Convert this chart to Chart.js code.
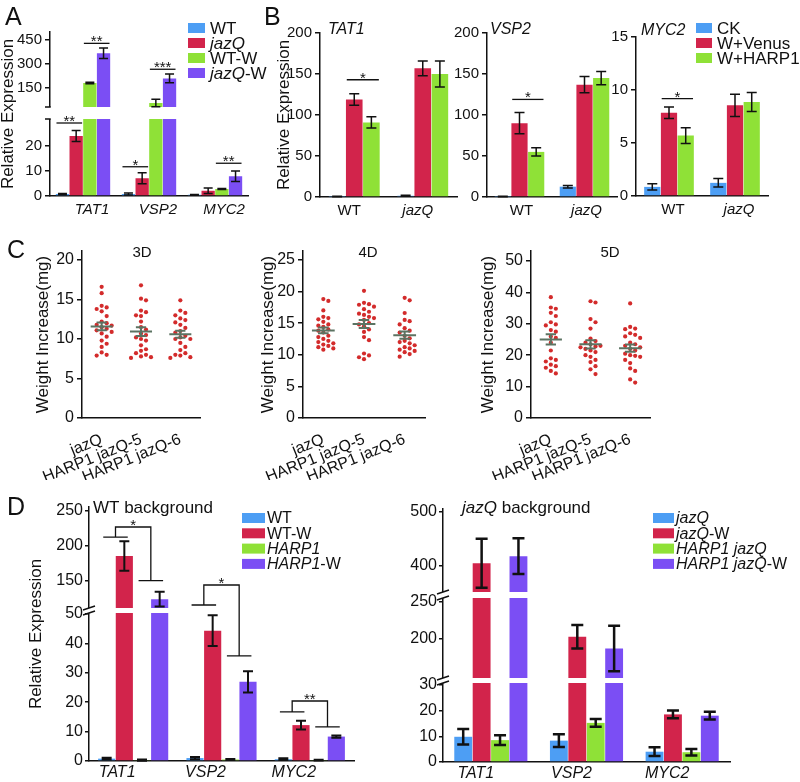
<!DOCTYPE html>
<html>
<head>
<meta charset="utf-8">
<title>HARP1 expression and weight figure</title>
<script src="https://cdn.jsdelivr.net/npm/chart.js@4.4.1/dist/chart.umd.min.js"></script>
<style>
  html, body { margin: 0; padding: 0; background: #fff; }
  #fig { position: relative; width: 800px; height: 782px; overflow: hidden; }
  #fig canvas { position: absolute; }
</style>
</head>
<body>
<div id="fig"></div>
<script>
// names written as *xxx* are set in italics
const FONT = "'Liberation Sans', Arial, sans-serif";
Chart.defaults.font.family = FONT;
Chart.defaults.color = '#111';

const BLUE = '#4d9ef4';
const RED = '#d2244b';
const GREEN = '#8fe137';
const PURPLE = '#7b4ef4';
const DOT = '#d32b2b';
const MEAN = '#5b7362';
const INK = '#111';

// ---------------- A : expression, wounding ----------------
const genesA = ['*TAT1*', '*VSP2*', '*MYC2*'];
const seriesA = ['WT', '*jazQ*', 'WT-W', '*jazQ*-W'];
const aWT = [0.8, 0.8, 0.5];
const aJazQ = [24, 7.1, 2.1];
const aWTW = [181, 56, 2.8];
const aJazQW = [367, 210, 7.9];
const aWTErr = [0.25, 0.4, 0.15];
const aJazQErr = [2.2, 2.2, 1.1];
const aWTWErr = [5, 24, 0.2];
const aJazQWErr = [33, 28, 2.1];
const aTicks = [0, 10, 20, 150, 300, 450];
// [gene, first bar, last bar, height, stars]
const aSig = [[0, 0, 1, 29.2, '**'], [0, 2, 3, 429, '**'], [1, 0, 1, 11.7, '*'], [1, 2, 3, 267, '***'], [2, 2, 3, 13.1, '**']];

// ---------------- B : Venus / HARP1 ----------------
const groupsB = ['WT', '*jazQ*'];
const seriesB = ['CK', 'W+Venus', 'W+HARP1'];
const tatCK = [0.5, 1.5], tatVenus = [119, 157], tatHarp = [91, 150];
const tatCKErr = [0.3, 0.6], tatVenusErr = [7, 9], tatHarpErr = [7, 16];
const vspCK = [0.5, 12.6], vspVenus = [90, 137], vspHarp = [55, 145];
const vspCKErr = [0.3, 1.5], vspVenusErr = [13, 10], vspHarpErr = [5, 8];
const mycCK = [0.86, 1.24], mycVenus = [7.85, 8.55], mycHarp = [5.7, 8.87];
const mycCKErr = [0.3, 0.4], mycVenusErr = [0.55, 1.05], mycHarpErr = [0.75, 0.9];
const bTicks200 = [0, 50, 100, 150, 200];
const bTicks15 = [0, 5, 10, 15];
const tatSig = [[0, 1, 2, 143, '*']];
const vspSig = [[0, 1, 2, 119, '*']];
const mycSig = [[0, 1, 2, 9.18, '*']];

// ---------------- C : weight increase ----------------
const strains = ['jazQ', 'HARP1 jazQ-5', 'HARP1 jazQ-6'];
const d3JazQ = [16.6, 15.8, 14.2, 14.0, 13.8, 13.5, 12.9, 12.2, 12.0, 11.8, 11.7, 11.5, 11.3, 11.1, 10.9, 10.7, 10.3, 9.8, 9.4, 9.0, 8.3, 8.0, 7.9];
const d3Line5 = [16.8, 15.1, 14.9, 13.6, 13.4, 13.0, 12.9, 12.2, 11.5, 11.2, 10.7, 10.5, 10.2, 10.0, 9.8, 9.2, 8.7, 8.5, 8.2, 8.0, 7.8, 7.7, 7.6];
const d3Line6 = [14.9, 13.6, 13.3, 13.0, 12.6, 12.4, 12.1, 11.8, 11.4, 11.0, 10.8, 10.4, 10.2, 10.0, 10.0, 9.5, 9.0, 8.6, 8.2, 8.0, 7.9, 7.7, 7.6];
const d4JazQ = [18.8, 18.5, 17.0, 16.0, 15.8, 15.6, 15.2, 14.8, 14.6, 14.4, 14.0, 13.8, 13.5, 13.0, 12.8, 12.5, 12.2, 12.0, 11.8, 11.6, 11.4, 11.2, 11.0, 10.8];
const d4Line5 = [20.1, 18.2, 18.0, 17.9, 17.6, 17.2, 16.8, 16.5, 16.3, 16.0, 15.8, 15.5, 15.0, 14.8, 14.5, 14.0, 13.6, 12.8, 12.3, 10.2, 9.9, 9.6, 9.3];
const d4Line6 = [19.0, 18.6, 16.6, 15.5, 15.3, 14.8, 14.2, 13.8, 13.5, 13.0, 12.6, 12.2, 12.0, 11.8, 11.5, 11.2, 11.0, 10.8, 10.6, 10.4, 10.1, 9.7];
const d5JazQ = [38.5, 35.2, 34.8, 33.5, 32.5, 30.5, 29.8, 29.5, 28.0, 27.5, 26.0, 25.5, 24.0, 21.5, 19.0, 18.5, 18.0, 17.0, 16.5, 16.0, 15.0, 14.2];
const d5Line5 = [37.2, 36.8, 31.5, 30.5, 28.5, 25.3, 24.5, 24.0, 23.5, 23.0, 22.8, 22.5, 22.0, 21.5, 21.0, 20.0, 19.5, 18.5, 17.8, 16.5, 15.5, 14.0];
const d5Line6 = [36.5, 29.0, 28.5, 28.3, 27.0, 26.5, 26.0, 25.5, 24.0, 23.5, 23.0, 22.5, 22.0, 21.5, 20.5, 20.0, 19.8, 19.5, 18.5, 17.5, 15.8, 15.0, 12.3, 11.3];
const cTicks3D = [0, 5, 10, 15, 20];
const cTicks4D = [0, 5, 10, 15, 20, 25];
const cTicks5D = [0, 10, 20, 30, 40, 50];

// ---------------- D : backgrounds ----------------
const genesD = ['*TAT1*', '*VSP2*', '*MYC2*'];
const seriesWT = ['WT', 'WT-W', '*HARP1*', '*HARP1*-W'];
const wtWT = [0.8, 1.0, 0.6];
const wtWTW = [185, 44.3, 12.2];
const wtHarp = [0.3, 0.5, 0.3];
const wtHarpW = [123.5, 26.9, 8.3];
const wtWTErr = [0.3, 0.4, 0.3];
const wtWTWErr = [21, 5.2, 1.5];
const wtHarpErr = [0.2, 0.2, 0.15];
const wtHarpWErr = [10.5, 3.6, 0.4];
const wtTicks = [0, 10, 20, 30, 40, 50, 150, 200, 250];
// [gene, left pair level, top level, right pair level, stars]
const wtBrackets = [[0, 212, 226.5, 150, '*'], [1, 115.3, 143.8, 35.7, '*'], [2, 16.7, 20.4, 11.6, '**']];

const seriesJQ = ['*jazQ*', '*jazQ*-W', '*HARP1 jazQ*', '*HARP1 jazQ*-W'];
const jqJazQ = [9.8, 8.3, 4.0];
const jqJazQW = [405, 203, 18.5];
const jqHarp = [8.5, 15.2, 3.8];
const jqHarpW = [418, 187, 18.0];
const jqJazQErr = [3, 2.5, 1.7];
const jqJazQWErr = [45, 16, 1.5];
const jqHarpErr = [1.9, 1.5, 1.3];
const jqHarpWErr = [33, 31, 1.5];
const jqTicks = [0, 10, 20, 30, 200, 250, 400, 500];

// ---------------- helpers ----------------
const extras = {};
const brokenAxes = {};

function plain(s) { return s.replace(/\*/g, ''); }
function isItalic(s) { return s.charAt(0) === '*'; }

function makeCanvas(id, left, top, w, h) {
  const c = document.createElement('canvas');
  c.id = id;
  c.width = w;
  c.height = h;
  c.style.left = left + 'px';
  c.style.top = top + 'px';
  c.style.width = w + 'px';
  c.style.height = h + 'px';
  document.getElementById('fig').appendChild(c);
  return c;
}

function richText(ctx, text, x, y, size, align) {
  const parts = text.split('*');
  const fonts = parts.map((p, i) => (i % 2 ? 'italic ' : '') + size + 'px ' + FONT);
  let w = 0;
  parts.forEach((p, i) => { ctx.font = fonts[i]; w += ctx.measureText(p).width; });
  let cx = align === 'center' ? x - w / 2 : (align === 'right' ? x - w : x);
  ctx.textAlign = 'left';
  parts.forEach((p, i) => {
    ctx.font = fonts[i];
    ctx.fillText(p, cx, y);
    cx += ctx.measureText(p).width;
  });
}

// linear axis made of stacked pieces with white gaps between them
class BrokenScale extends Chart.LinearScale {
  static id = 'broken';
  static defaults = {};
  toDecimal(v) {
    const parts = brokenAxes[this.chart.canvas.id];
    const total = parts.reduce((s, p) => s + p.size, 0);
    let acc = 0;
    for (let i = 0; i < parts.length; i++) {
      const p = parts[i];
      if (!p.gap && (v <= p.to || i === parts.length - 1)) {
        const c = Math.min(Math.max(v, p.from), p.to);
        return (acc + (c - p.from) / (p.to - p.from) * p.size) / total;
      }
      acc += p.size;
    }
    return 1;
  }
  getPixelForValue(v) {
    if (v === null || v === undefined || isNaN(v)) return NaN;
    return this.getPixelForDecimal(this.toDecimal(v));
  }
  getValueForPixel(px) {
    const d = this.getDecimalForPixel(px);
    const parts = brokenAxes[this.chart.canvas.id];
    const total = parts.reduce((s, p) => s + p.size, 0);
    let acc = 0;
    for (const p of parts) {
      const f = p.size / total;
      if (!p.gap && d <= acc + f) return p.from + (d - acc) / f * (p.to - p.from);
      acc += f;
    }
    return this.max;
  }
}
Chart.register(BrokenScale);

function drawBreaks(ctx, chart, style) {
  const parts = brokenAxes[chart.canvas.id];
  const ys = chart.scales.y, area = chart.chartArea;
  const total = parts.reduce((s, p) => s + p.size, 0);
  let acc = 0;
  parts.forEach(p => {
    if (p.gap) {
      const yLow = ys.getPixelForDecimal(acc / total);
      const yHigh = ys.getPixelForDecimal((acc + p.size) / total);
      ctx.fillStyle = '#fff';
      ctx.fillRect(area.left - 3, yHigh, area.right - area.left + 3, yLow - yHigh);
      ctx.strokeStyle = INK;
      ctx.lineWidth = 1.5;
      ctx.beginPath();
      [yLow, yHigh].forEach(y => {
        if (style === 'cap') {
          ctx.moveTo(area.left - 5, y);
          ctx.lineTo(area.left + 0.75, y);
        } else {
          ctx.moveTo(area.left - 6, y + 2);
          ctx.lineTo(area.left + 6, y - 2);
        }
      });
      ctx.stroke();
    }
    acc += p.size;
  });
}

function swarmOffsets(vals, pxPerUnit, catPx, dot) {
  const order = vals.map((v, i) => i).sort((a, b) => vals[b] - vals[a]);
  const placed = [];
  const off = [];
  order.forEach(i => {
    const y = vals[i] * pxPerUnit;
    for (let k = 0; k < 40; k++) {
      const dx = Math.ceil(k / 2) * (k % 2 ? 1 : -1) * dot;
      if (placed.every(p => Math.hypot(p.x - dx, p.y - y) >= dot)) {
        placed.push({ x: dx, y: y });
        off[i] = dx / catPx;
        break;
      }
    }
  });
  return off;
}

const figurePlugin = {
  id: 'figureExtras',
  afterDatasetsDraw(chart) {
    const ex = extras[chart.canvas.id];
    if (!ex) return;
    const ctx = chart.ctx, ys = chart.scales.y, xs = chart.scales.x;
    ctx.save();
    if (brokenAxes[chart.canvas.id]) drawBreaks(ctx, chart, ex.breakStyle);

    ctx.strokeStyle = INK;
    ctx.fillStyle = INK;
    if (ex.errors) {
      ctx.lineWidth = ex.errStyle.width;
      ex.errors.forEach((errs, di) => {
        const meta = chart.getDatasetMeta(di);
        const data = chart.data.datasets[di].data;
        meta.data.forEach((bar, j) => {
          const v = data[j], e = errs[j];
          const top = ys.getPixelForValue(v + e);
          const bot = ys.getPixelForValue(Math.max(v - e, 0));
          const half = ex.errStyle.cap / 2;
          ctx.beginPath();
          ctx.moveTo(bar.x, top); ctx.lineTo(bar.x, bot);
          ctx.moveTo(bar.x - half, top); ctx.lineTo(bar.x + half, top);
          ctx.moveTo(bar.x - half, bot); ctx.lineTo(bar.x + half, bot);
          ctx.stroke();
        });
      });
    }

    ctx.lineWidth = 1.3;
    ctx.textAlign = 'center';
    ctx.textBaseline = 'alphabetic';
    ctx.font = '15px ' + FONT;
    if (ex.sig) {
      ex.sig.forEach(([g, a, b, level, stars]) => {
        const ba = chart.getDatasetMeta(a).data[g], bb = chart.getDatasetMeta(b).data[g];
        const x1 = ba.x - ba.width * 0.45, x2 = bb.x + bb.width * 0.45;
        const y = ys.getPixelForValue(level);
        ctx.beginPath();
        ctx.moveTo(x1, y); ctx.lineTo(x2, y);
        ctx.stroke();
        ctx.fillText(stars, (x1 + x2) / 2, y + 3);
      });
    }
    if (ex.brackets) {
      ex.brackets.forEach(([g, lo, top, hi, stars]) => {
        const b = [0, 1, 2, 3].map(i => chart.getDatasetMeta(i).data[g]);
        const l1 = b[0].x - b[0].width * 0.2, l2 = b[1].x + b[1].width * 0.2;
        const r1 = b[2].x - b[2].width * 0.2, r2 = b[3].x + b[3].width * 0.2;
        const ml = (l1 + l2) / 2, mr = (r1 + r2) / 2;
        const yl = ys.getPixelForValue(lo), yt = ys.getPixelForValue(top), yr = ys.getPixelForValue(hi);
        ctx.beginPath();
        ctx.moveTo(l1, yl); ctx.lineTo(l2, yl);
        ctx.moveTo(ml, yl); ctx.lineTo(ml, yt); ctx.lineTo(mr, yt); ctx.lineTo(mr, yr);
        ctx.moveTo(r1, yr); ctx.lineTo(r2, yr);
        ctx.stroke();
        ctx.fillText(stars, (ml + mr) / 2, yt + 3);
      });
    }

    // mean and SEM over the dots
    if (ex.groups) {
      ctx.strokeStyle = MEAN;
      ctx.lineWidth = 2;
      ex.groups.forEach((vals, i) => {
        const n = vals.length;
        const m = vals.reduce((s, v) => s + v, 0) / n;
        const sd = Math.sqrt(vals.reduce((s, v) => s + (v - m) * (v - m), 0) / (n - 1));
        const se = sd / Math.sqrt(n);
        const cx = xs.getPixelForValue(i);
        const wide = xs.getPixelForValue(i + 0.28) - cx;
        const cap = xs.getPixelForValue(i + 0.13) - cx;
        const ym = ys.getPixelForValue(m), yh = ys.getPixelForValue(m + se), yl = ys.getPixelForValue(m - se);
        ctx.beginPath();
        ctx.moveTo(cx - wide, ym); ctx.lineTo(cx + wide, ym);
        ctx.moveTo(cx, yh); ctx.lineTo(cx, yl);
        ctx.moveTo(cx - cap, yh); ctx.lineTo(cx + cap, yh);
        ctx.moveTo(cx - cap, yl); ctx.lineTo(cx + cap, yl);
        ctx.stroke();
      });
    }
    ctx.restore();
  },
  afterDraw(chart) {
    // legend and loose text are placed in figure coordinates
    const ex = extras[chart.canvas.id];
    if (!ex) return;
    const ctx = chart.ctx;
    ctx.save();
    ctx.translate(-chart.canvas.offsetLeft, -chart.canvas.offsetTop);
    if (ex.legend) {
      const L = ex.legend;
      L.items.forEach((name, i) => {
        const cy = L.y + i * L.step;
        ctx.fillStyle = L.colors[i];
        ctx.fillRect(L.x, cy - L.boxH / 2, L.boxW, L.boxH);
        ctx.fillStyle = INK;
        ctx.textBaseline = 'middle';
        richText(ctx, name, L.textX, cy + 1, L.size, 'left');
      });
    }
    if (ex.texts) {
      ex.texts.forEach(t => {
        ctx.fillStyle = INK;
        ctx.textBaseline = 'alphabetic';
        richText(ctx, t.text, t.x, t.y, t.size, t.align || 'left');
      });
    }
    ctx.restore();
  }
};
Chart.register(figurePlugin);

function yAxis(cfg) {
  return {
    type: cfg.pieces ? 'broken' : 'linear',
    min: 0,
    max: cfg.max,
    grid: { drawOnChartArea: false, drawTicks: true, tickLength: cfg.tickLen || 5, color: INK, lineWidth: 1.5 },
    border: { color: INK, width: 1.5 },
    ticks: { color: INK, padding: cfg.tickPad || 3, autoSkip: false, font: { family: FONT, size: cfg.yFont } },
    afterBuildTicks: s => { s.ticks = cfg.ticks.map(v => ({ value: v })); },
    afterFit: s => { s.width = cfg.yWidth; },
    title: cfg.yTitle
      ? { display: true, text: cfg.yTitle, color: INK, padding: 0, font: { family: FONT, size: 17, lineHeight: 1 } }
      : { display: false }
  };
}

function barChart(id, box, cfg) {
  const canvas = makeCanvas(id, box[0], box[1], box[2], box[3]);
  extras[id] = cfg.extra;
  if (cfg.pieces) brokenAxes[id] = cfg.pieces;
  return new Chart(canvas, {
    type: 'bar',
    data: {
      labels: cfg.labels.map(plain),
      datasets: cfg.series.map((s, i) => ({
        label: plain(s),
        data: cfg.values[i],
        backgroundColor: cfg.colors[i],
        borderWidth: 0,
        barPercentage: 0.97,
        categoryPercentage: cfg.catPct
      }))
    },
    options: {
      responsive: false,
      animation: false,
      events: [],
      layout: { padding: cfg.pad },
      plugins: { legend: { display: false }, tooltip: { enabled: false } },
      scales: {
        x: {
          grid: { display: false, drawTicks: false },
          border: { color: INK, width: 1.5 },
          ticks: {
            color: INK,
            padding: cfg.xPad || 5,
            labelOffset: cfg.labelOffset || 0,
            font: c => ({ family: FONT, size: cfg.xFont, style: isItalic(cfg.labels[c.index] || '') ? 'italic' : 'normal' })
          },
          afterFit: s => { s.height = cfg.xHeight; }
        },
        y: yAxis(cfg)
      }
    }
  });
}

function dotChart(id, box, cfg) {
  const canvas = makeCanvas(id, box[0], box[1], box[2], box[3]);
  extras[id] = { groups: cfg.groups, texts: cfg.texts };
  const plotW = box[2] - cfg.pad.left - cfg.pad.right - cfg.yWidth;
  const plotH = box[3] - cfg.pad.top - cfg.xHeight;
  const points = [];
  cfg.groups.forEach((vals, g) => {
    const off = swarmOffsets(vals, plotH / cfg.max, plotW / 3, 5);
    vals.forEach((v, k) => points.push({ x: g + off[k], y: v }));
  });
  return new Chart(canvas, {
    type: 'scatter',
    data: { datasets: [{ data: points, backgroundColor: DOT, borderWidth: 0, pointRadius: 2.1 }] },
    options: {
      responsive: false,
      animation: false,
      events: [],
      layout: { padding: cfg.pad },
      plugins: { legend: { display: false }, tooltip: { enabled: false } },
      scales: {
        x: {
          type: 'linear',
          min: -0.5,
          max: 2.5,
          grid: { display: false, drawTicks: false },
          border: { color: INK, width: 1.5 },
          ticks: {
            color: INK, padding: 12, minRotation: 22, maxRotation: 22, autoSkip: false,
            font: { family: FONT, size: 16 },
            callback: v => strains[v]
          },
          afterBuildTicks: s => { s.ticks = strains.map((n, i) => ({ value: i })); },
          afterFit: s => { s.height = cfg.xHeight; }
        },
        y: yAxis(cfg)
      }
    }
  });
}

// ---------------- panel A ----------------
barChart('panelA', [0, 0, 300, 225], {
  labels: genesA, series: seriesA,
  values: [aWT, aJazQ, aWTW, aJazQW],
  colors: [BLUE, RED, GREEN, PURPLE],
  catPct: 0.83, pad: { left: 0, top: 32, right: 52, bottom: 0 },
  yWidth: 50, xHeight: 29, xFont: 15, yFont: 15, labelOffset: 9,
  ticks: aTicks, max: 500, yTitle: 'Relative Expression',
  pieces: [{ from: 0, to: 30.8, size: 77 }, { gap: true, size: 12 }, { from: 31, to: 500, size: 75 }],
  extra: {
    breakStyle: 'cap',
    errors: [aWTErr, aJazQErr, aWTWErr, aJazQWErr], errStyle: { width: 1.5, cap: 9 },
    sig: aSig,
    legend: { x: 188, y: 28, step: 15, boxW: 17, boxH: 10, textX: 210, size: 17, items: seriesA, colors: [BLUE, RED, GREEN, PURPLE] },
    texts: [{ text: 'A', x: 5, y: 25, size: 25 }]
  }
});

// ---------------- panel B ----------------
const colorsB = [BLUE, RED, GREEN];
barChart('panelB1', [258, 0, 202, 225], {
  labels: groupsB, series: seriesB, values: [tatCK, tatVenus, tatHarp], colors: colorsB,
  catPct: 0.75, pad: { left: 18, top: 33, right: 3, bottom: 0 },
  yWidth: 44, xHeight: 28, xFont: 15, yFont: 15, labelOffset: -5,
  ticks: bTicks200, max: 200, yTitle: 'Relative Expression',
  extra: {
    errors: [tatCKErr, tatVenusErr, tatHarpErr], errStyle: { width: 1.5, cap: 10 },
    sig: tatSig,
    texts: [{ text: 'B', x: 264, y: 25, size: 25 }, { text: '*TAT1*', x: 328, y: 34, size: 16 }]
  }
});
barChart('panelB2', [440, 0, 180, 225], {
  labels: groupsB, series: seriesB, values: [vspCK, vspVenus, vspHarp], colors: colorsB,
  catPct: 0.77, pad: { left: 0, top: 33, right: 3, bottom: 0 },
  yWidth: 47, xHeight: 28, xFont: 15, yFont: 15, labelOffset: 2,
  ticks: bTicks200, max: 200,
  extra: {
    errors: [vspCKErr, vspVenusErr, vspHarpErr], errStyle: { width: 1.5, cap: 10 },
    sig: vspSig,
    texts: [{ text: '*VSP2*', x: 490, y: 34, size: 16 }]
  }
});
barChart('panelB3', [596, 0, 204, 225], {
  labels: groupsB, series: seriesB, values: [mycCK, mycVenus, mycHarp], colors: colorsB,
  catPct: 0.76, pad: { left: 0, top: 37, right: 32, bottom: 0 },
  yWidth: 40, xHeight: 29, xFont: 15, yFont: 15, labelOffset: 4,
  ticks: bTicks15, max: 15,
  extra: {
    errors: [mycCKErr, mycVenusErr, mycHarpErr], errStyle: { width: 1.5, cap: 10 },
    sig: mycSig,
    legend: { x: 696, y: 28, step: 15, boxW: 16, boxH: 10, textX: 717, size: 17, items: seriesB, colors: colorsB },
    texts: [{ text: '*MYC2*', x: 641, y: 35, size: 16 }]
  }
});

// ---------------- panel C ----------------
dotChart('panelC1', [0, 236, 210, 244], {
  groups: [d3JazQ, d3Line5, d3Line6],
  pad: { left: 35, top: 15, right: 10, bottom: 0 }, yWidth: 47, xHeight: 62, yFont: 16,
  ticks: cTicks3D, max: 21.14, yTitle: 'Weight Increase(mg)',
  texts: [{ text: 'C', x: 7, y: 258, size: 25 }, { text: '3D', x: 142, y: 257, size: 15, align: 'center' }]
});
dotChart('panelC2', [255, 236, 180, 244], {
  groups: [d4JazQ, d4Line5, d4Line6],
  pad: { left: 5, top: 15, right: 10, bottom: 0 }, yWidth: 43, xHeight: 62, yFont: 16,
  ticks: cTicks4D, max: 26.4, yTitle: 'Weight Increase(mg)',
  texts: [{ text: '4D', x: 368, y: 257, size: 15, align: 'center' }]
});
dotChart('panelC3', [475, 236, 185, 244], {
  groups: [d5JazQ, d5Line5, d5Line6],
  pad: { left: 5, top: 15, right: 10, bottom: 0 }, yWidth: 51, xHeight: 62, yFont: 16,
  ticks: cTicks5D, max: 53.2, yTitle: 'Weight Increase(mg)',
  texts: [{ text: '5D', x: 610, y: 257, size: 15, align: 'center' }]
});

// ---------------- panel D ----------------
const colorsD = [BLUE, RED, GREEN, PURPLE];
barChart('panelD1', [0, 490, 400, 292], {
  labels: genesD, series: seriesWT, values: [wtWT, wtWTW, wtHarp, wtHarpW], colors: colorsD,
  catPct: 0.8, pad: { left: 28, top: 17, right: 46, bottom: 0 },
  yWidth: 61, xHeight: 21, xFont: 16, yFont: 16, xPad: 2, labelOffset: -16, tickLen: 4, tickPad: 2,
  ticks: wtTicks, max: 255, yTitle: 'Relative Expression',
  pieces: [{ from: 0, to: 50.3, size: 148 }, { gap: true, size: 5 }, { from: 111, to: 255, size: 101 }],
  extra: {
    breakStyle: 'slash',
    errors: [wtWTErr, wtWTWErr, wtHarpErr, wtHarpWErr], errStyle: { width: 2, cap: 10 },
    brackets: wtBrackets,
    legend: { x: 242, y: 518, step: 15.3, boxW: 23, boxH: 10, textX: 267, size: 16, items: seriesWT, colors: colorsD },
    texts: [{ text: 'D', x: 7, y: 515, size: 25 }, { text: 'WT background', x: 93, y: 513, size: 17 }]
  }
});
barChart('panelD2', [400, 490, 400, 292], {
  labels: genesD, series: seriesJQ, values: [jqJazQ, jqJazQW, jqHarp, jqHarpW], colors: colorsD,
  catPct: 0.77, pad: { left: 0, top: 19, right: 70, bottom: 0 },
  yWidth: 43, xHeight: 20, xFont: 16, yFont: 16, xPad: 2, labelOffset: -15, tickLen: 4, tickPad: 2,
  ticks: jqTicks, max: 505,
  pieces: [{ from: 0, to: 30.7, size: 79 }, { gap: true, size: 5 }, { from: 147, to: 255.5, size: 80 },
           { gap: true, size: 6 }, { from: 352, to: 505, size: 83 }],
  extra: {
    breakStyle: 'slash',
    errors: [jqJazQErr, jqJazQWErr, jqHarpErr, jqHarpWErr], errStyle: { width: 2.5, cap: 12 },
    legend: { x: 653, y: 518, step: 15.3, boxW: 21, boxH: 10, textX: 676, size: 16, items: seriesJQ, colors: colorsD },
    texts: [{ text: '*jazQ* background', x: 462, y: 513, size: 17 }]
  }
});
</script>
</body>
</html>
